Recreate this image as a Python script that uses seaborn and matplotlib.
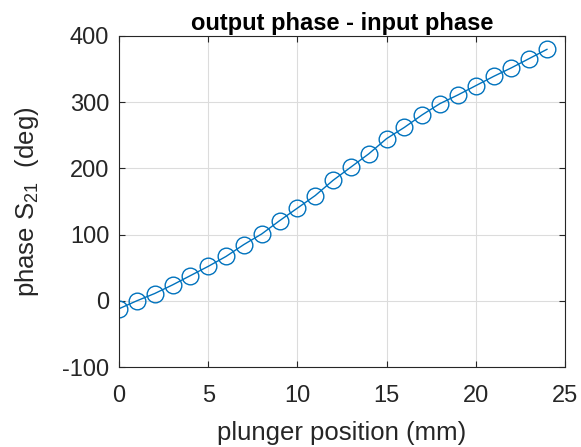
import matplotlib
matplotlib.use("Agg")
import matplotlib.pyplot as plt
import seaborn as sns
import pandas as pd

position_mm = [0, 1, 2, 3, 4, 5, 6, 7, 8, 9, 10, 11, 12, 13, 14, 15, 16, 17, 18, 19, 20, 21, 22, 23, 24]
phase_deg = [-12, 0, 11, 24, 38, 52, 67, 85, 101, 121, 140, 159, 182, 202, 222, 245, 262, 281, 298, 311, 325, 339, 352, 366, 380]

xticks = [0, 5, 10, 15, 20, 25]
yticks = [-100, 0, 100, 200, 300, 400]

df = pd.DataFrame({"x": position_mm, "y": phase_deg})

sns.set_theme(style="whitegrid")
plt.rcParams['font.family'] = ['Liberation Sans', 'DejaVu Sans']
plt.rcParams['axes.unicode_minus'] = False
plt.rcParams['mathtext.fontset'] = 'custom'
plt.rcParams['mathtext.rm'] = 'Liberation Sans'

fig = plt.figure(figsize=(5.81, 4.47), dpi=100)
ax = fig.add_axes([119/581, 1-367/447, (565-119)/581, (367-36)/447])

sns.lineplot(data=df, x="x", y="y", ax=ax, color="#0072BD", linewidth=1.0,
             marker="o", markersize=12, markerfacecolor="none",
             markeredgecolor="#0072BD", markeredgewidth=1.0)

ax.set_xlim(0, 25)
ax.set_ylim(-100, 400)
ax.set_xticks(xticks)
ax.set_yticks(yticks)
ax.grid(True, color="#dcdcdc", linewidth=0.8)
for s in ax.spines.values():
    s.set_color("#262626")
    s.set_linewidth(0.8)
    s.set_visible(True)
ax.tick_params(direction="in", length=4, width=0.8, color="#262626",
               labelsize=17, labelcolor="#262626", pad=7,
               top=True, right=True, bottom=True, left=True)
ax.tick_params(axis="x", pad=13)
ax.set_xlabel("plunger position (mm)", fontsize=18.5, color="#262626", labelpad=10)
ax.set_ylabel("phase S$_{\\mathregular{21}}$  (deg)", fontsize=18.5, color="#262626", labelpad=15)
ax.set_title("output phase - input phase", fontsize=17, fontweight="bold", color="black", pad=4)

fig.savefig("out.png", dpi=100)
